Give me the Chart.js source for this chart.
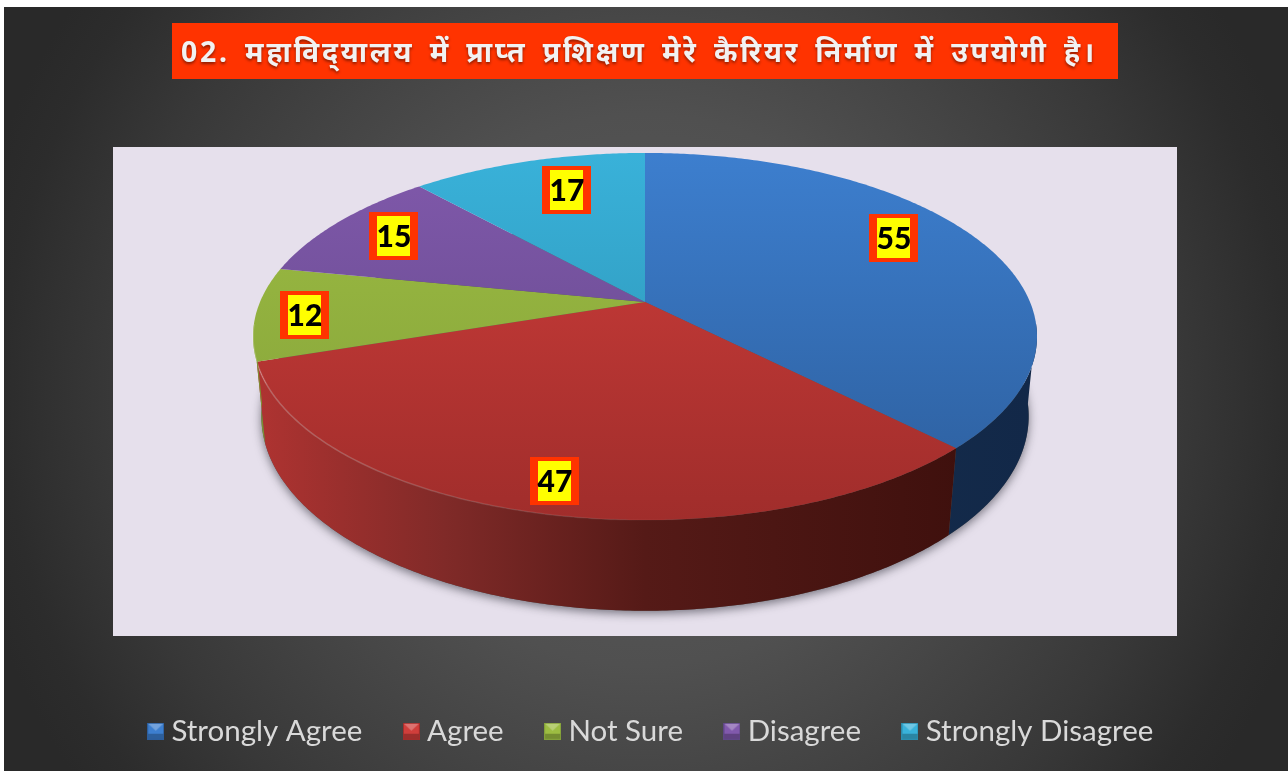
<!DOCTYPE html>
<html lang="hi">
<head>
<meta charset="utf-8">
<title>Pie chart</title>
<script src="https://cdn.jsdelivr.net/npm/chart.js@4"></script>
<style>
  html, body { margin: 0; padding: 0; background: #fff; }
  canvas { display: block; }
</style>
</head>
<body>
<canvas id="myPieChart" width="1288" height="771"></canvas>
<script>
// data
var categories = ['Strongly Agree', 'Agree', 'Not Sure', 'Disagree', 'Strongly Disagree'];
var responses = [55, 47, 12, 15, 17];
var chartTitle = '02. महाविद्‌यालय में प्राप्त प्रशिक्षण मेरे कैरियर निर्माण में उपयोगी है।';

// colours per slice
var baseColors = ['#3a76c2', '#c0392f', '#94b53e', '#7a57a5', '#35a9cf'];
var topLight = ['#3d7fcf', '#d03e3b', '#9dbd42', '#8159ac', '#39b2da'];
var topDark = ['#2c5d9b', '#a02d2b', '#83a03a', '#5f4786', '#2b8dae'];
var sideLight = ['#1b3659', '#ae3331', '#7d8f32', '#4a3569', '#1f6a85'];
var sideInner = ['#1a3457', '#802a28', '#74852f', '#4a3569', '#1f6a85'];
var sideMid = ['#17304f', '#551a17', '#6d7d2c', '#4a3569', '#1f6a85'];
var sideDark = ['#122848', '#3a0e0b', '#5d6c26', '#4a3569', '#1f6a85'];

// where the value tags sit on each slice
var labelRadius = [0.735, 0.845, 0.875, 0.805, 0.63];
var labelShiftY = [-17, 7, 3, 0, -18];

// tilt of the pie
var pieCenterY = 302;
var squash = 0.46;
var tilt = 0.188;
var depth = 0.208;
var depthFade = 0.021;
var plotBox = { left: 113, top: 147, right: 1177, bottom: 636 };

function project(x, y, R, cx, z) {
    var w = 1 - tilt * y + depthFade * z;
    return { x: cx + R * x / w, y: pieCenterY + R * (squash * y + depth * z) / w };
}

function rimPath(ctx, cx, R, a0, a1, z, first) {
    var steps = Math.max(2, Math.ceil(Math.abs(a1 - a0) / 0.01));
    for (var i = 0; i <= steps; i++) {
        var a = a0 + (a1 - a0) * i / steps;
        var p = project(Math.cos(a), Math.sin(a), R, cx, z);
        if (i === 0 && first) ctx.moveTo(p.x, p.y); else ctx.lineTo(p.x, p.y);
    }
}

class Arc3D extends Chart.ArcElement {
    draw(ctx) {
        var p = this.getProps(['x', 'startAngle', 'endAngle', 'outerRadius']);
        var i = this.$context.dataIndex;
        var cx = p.x, R = p.outerRadius;
        var a0 = p.startAngle, a1 = p.endAngle;

        // side wall, only the part that faces the viewer
        var s0 = Math.max(a0, 7 * Math.PI / 180), s1 = Math.min(a1, 173 * Math.PI / 180);
        var hasSide = s1 > s0;
        if (hasSide) {
            var g = ctx.createLinearGradient(cx - R, 0, cx + R, 0);
            g.addColorStop(0, sideLight[i]);
            g.addColorStop(0.24, sideInner[i]);
            g.addColorStop(0.5, sideMid[i]);
            g.addColorStop(1, sideDark[i]);
            ctx.beginPath();
            rimPath(ctx, cx, R, s0, s1, 0, true);
            rimPath(ctx, cx, R, s1, s0, 1, false);
            ctx.closePath();
            ctx.fillStyle = g;
            ctx.fill();
        }

        // top face
        var t = ctx.createLinearGradient(0, pieCenterY - R * 0.4, 0, pieCenterY + R * 0.57);
        t.addColorStop(0, topLight[i]);
        t.addColorStop(1, topDark[i]);
        ctx.beginPath();
        var c = project(0, 0, R, cx, 0);
        ctx.moveTo(c.x, c.y);
        rimPath(ctx, cx, R, a0, a1, 0, false);
        ctx.closePath();
        ctx.fillStyle = t;
        ctx.fill();

        // soft light along the front rim, fading to the right
        if (hasSide) {
            var h = ctx.createLinearGradient(cx - R, 0, cx + 60, 0);
            h.addColorStop(0, 'rgba(255,255,255,0.24)');
            h.addColorStop(1, 'rgba(255,255,255,0)');
            ctx.beginPath();
            rimPath(ctx, cx, R, s0, s1, 0, true);
            ctx.strokeStyle = h;
            ctx.lineWidth = 1.5;
            ctx.stroke();
        }
    }
}
Arc3D.id = 'arc3d';
Arc3D.defaults = Chart.ArcElement.defaults;

class Pie3D extends Chart.PieController {}
Pie3D.id = 'pie3d';
Pie3D.defaults = { dataElementType: 'arc3d' };

Chart.register(Arc3D, Pie3D);

function makeMarker(light, dark) {
    var c = document.createElement('canvas');
    c.width = 17; c.height = 17;
    var m = c.getContext('2d');
    m.fillStyle = light;
    m.fillRect(0, 0, 17, 17);
    m.fillStyle = 'rgba(0,0,0,0.25)';
    m.fillRect(0, 11, 17, 6);
    m.fillStyle = 'rgba(255,255,255,0.28)';
    m.beginPath(); m.moveTo(0, 0); m.lineTo(8.5, 8); m.lineTo(17, 0); m.closePath(); m.fill();
    m.strokeStyle = dark;
    m.strokeRect(0.5, 0.5, 16, 16);
    return c;
}

var backdrop = {
    id: 'backdrop',
    beforeDraw: function (chart) {
        var ctx = chart.ctx;
        ctx.save();
        ctx.fillStyle = '#ffffff';
        ctx.fillRect(0, 0, chart.width, chart.height);
        var g = ctx.createRadialGradient(645, 390, 0, 645, 390, 690);
        g.addColorStop(0, '#5c5c5c');
        g.addColorStop(0.4, '#505050');
        g.addColorStop(0.775, '#383838');
        g.addColorStop(0.93, '#2c2c2c');
        g.addColorStop(1, '#292929');
        ctx.fillStyle = g;
        ctx.fillRect(4, 7, chart.width - 4, chart.height - 7);
        ctx.restore();

        // the title gets its orange box and wider spacing
        var tb = chart.titleBlock;
        if (!tb.wrapped) {
            var plain = tb.draw;
            tb.draw = function () {
                ctx.save();
                ctx.fillStyle = '#ff3300';
                ctx.fillRect(172, 23, 946, 56);
                ctx.translate(-6, 0);
                ctx.letterSpacing = '2.8px';
                ctx.wordSpacing = '5.1px';
                ctx.shadowColor = 'rgba(0,0,0,0.45)';
                ctx.shadowBlur = 3;
                ctx.shadowOffsetY = 2;
                plain.call(tb);
                ctx.restore();
            };
            tb.wrapped = true;
        }
    },
    beforeDatasetsDraw: function (chart) {
        var ctx = chart.ctx;
        var arc = chart.getDatasetMeta(0).data[0];
        var cx = arc.x, R = arc.outerRadius;
        ctx.save();
        ctx.fillStyle = '#e6e0ec';
        ctx.fillRect(plotBox.left, plotBox.top, plotBox.right - plotBox.left, plotBox.bottom - plotBox.top);
        // shadow under the pie
        ctx.shadowColor = 'rgba(30,30,40,0.55)';
        ctx.shadowBlur = 10;
        ctx.shadowOffsetY = 3;
        ctx.fillStyle = '#555';
        ctx.beginPath();
        rimPath(ctx, cx, R, 0, Math.PI * 2, 1, true);
        ctx.closePath();
        ctx.fill();
        ctx.restore();
    },
    afterDatasetsDraw: function (chart) {
        var ctx = chart.ctx;
        chart.getDatasetMeta(0).data.forEach(function (arc, i) {
            var mid = (arc.startAngle + arc.endAngle) / 2;
            var r = labelRadius[i];
            var p = project(r * Math.cos(mid), r * Math.sin(mid), arc.outerRadius, arc.x, 0);
            var x = Math.round(p.x), y = Math.round(p.y + labelShiftY[i]);
            ctx.save();
            ctx.fillStyle = '#ff3300';
            ctx.fillRect(x - 25, y - 24, 49, 48);
            ctx.fillStyle = '#ffff00';
            ctx.fillRect(x - 17, y - 20, 33, 40);
            ctx.fillStyle = '#000000';
            ctx.font = '900 30px Lato, "Open Sans", sans-serif';
            ctx.textAlign = 'center';
            ctx.textBaseline = 'middle';
            ctx.fillText(String(responses[i]), x, y + 1);
            ctx.restore();
        });
    },
    afterLayout: function (chart) {
        chart.legend.left += 9;
        chart.legend.right += 9;
    }
};

var ctx = document.getElementById('myPieChart').getContext('2d');

var myPieChart = new Chart(ctx, {
    type: 'pie3d',
    data: {
        labels: categories,
        datasets: [{
            data: responses,
            backgroundColor: baseColors,
            borderWidth: 0,
            radius: 385
        }]
    },
    options: {
        responsive: false,
        animation: false,
        layout: { padding: { left: 2, right: 0, top: 0, bottom: 15 } },
        plugins: {
            tooltip: { enabled: false },
            title: {
                display: true,
                text: chartTitle,
                color: '#f2f2f2',
                font: { family: '"Noto Sans", "Noto Sans Devanagari", sans-serif', size: 28.4, weight: 'bold' },
                padding: { top: 37, bottom: 20 }
            },
            legend: {
                display: true,
                position: 'bottom',
                labels: {
                    color: '#d9d9d9',
                    font: { family: 'Lato, "Open Sans", sans-serif', size: 29.5 },
                    padding: 48,
                    usePointStyle: true,
                    pointStyleWidth: 2,
                    generateLabels: function (chart) {
                        return categories.map(function (name, i) {
                            return {
                                text: name,
                                fontColor: '#d9d9d9',
                                fillStyle: baseColors[i],
                                strokeStyle: baseColors[i],
                                lineWidth: 0,
                                hidden: false,
                                index: i,
                                pointStyle: makeMarker(topLight[i], topDark[i])
                            };
                        });
                    }
                }
            }
        }
    },
    plugins: [backdrop]
});
</script>
</body>
</html>
